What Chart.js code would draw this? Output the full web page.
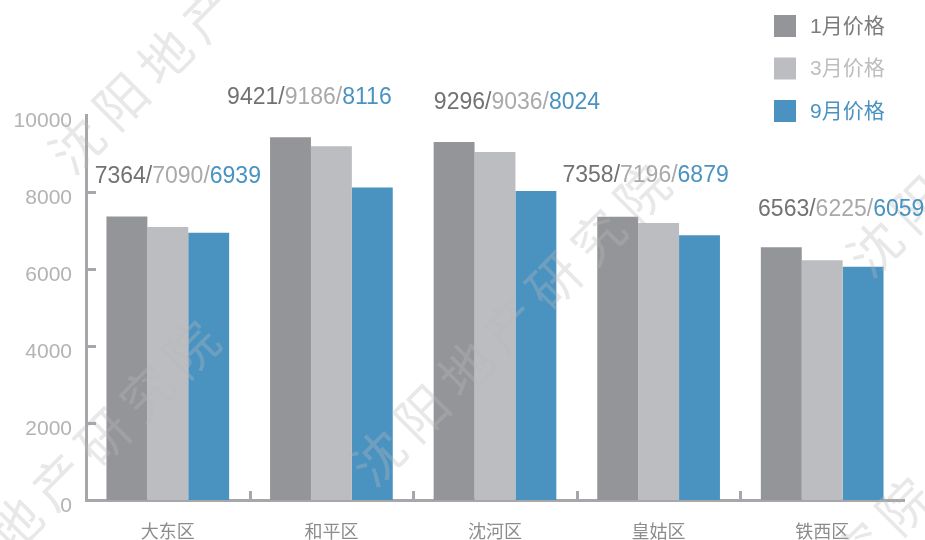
<!DOCTYPE html>
<html><head><meta charset="utf-8">
<script src="https://cdn.jsdelivr.net/npm/chart.js@4"></script>
<style>html,body{margin:0;padding:0;background:#fff;}canvas{display:block;}</style>
</head><body>
<canvas id="c" width="925" height="540"></canvas>
<script>
const categories = ['大东区', '和平区', '沈河区', '皇姑区', '铁西区'];
const seriesNames = ['1月价格', '3月价格', '9月价格'];
const janPrices = [7364, 9421, 9296, 7358, 6563];
const marPrices = [7090, 9186, 9036, 7196, 6225];
const sepPrices = [6939, 8116, 8024, 6879, 6059];
const yTicks = [0, 2000, 4000, 6000, 8000, 10000];
const watermarkText = '沈阳地产研究院';

const barColors = ['#949599', '#bcbdc0', '#4a93c1'];
const textColors = ['#727274', '#a9a9ab', '#4a93c1'];
const legendTextColors = ['#7c7c7e', '#bdbec0', '#4a93c1'];
const axisColor = '#a6a6ab';
const NUM_FONT = "'Liberation Sans', 'Noto Sans CJK SC', sans-serif";
const CJK_FONT = "'Noto Sans CJK SC', 'Liberation Sans', sans-serif";

const seriesValues = [janPrices, marPrices, sepPrices];

const watermarkPlugin = {
  id: 'watermark',
  afterDatasetsDraw(chart) {
    const ctx = chart.ctx;
    const starts = [[77, 145], [-73, 613], [378, 457], [875, 248], [640, 770]];
    const step = 44;
    ctx.save();
    ctx.font = "52px " + CJK_FONT;
    ctx.fillStyle = 'rgba(185,185,185,0.33)';
    ctx.textAlign = 'center';
    ctx.textBaseline = 'middle';
    starts.forEach(([sx, sy]) => {
      [...watermarkText].forEach((ch, k) => {
        ctx.save();
        ctx.translate(sx + step * k, sy - step * k);
        ctx.rotate(-Math.PI / 4);
        ctx.fillText(ch, 0, 0);
        ctx.restore();
      });
    });
    ctx.restore();
  }
};

const decorPlugin = {
  id: 'decor',
  afterDraw(chart) {
    const ctx = chart.ctx;
    const xs = chart.scales.x, ys = chart.scales.y;
    const area = chart.chartArea;
    ctx.save();
    ctx.strokeStyle = axisColor;
    ctx.lineWidth = 3;
    yTicks.forEach(v => {
      if (v === 0 || v === 10000) return;
      const y = Math.round(ys.getPixelForValue(v)) + 0.5;
      ctx.beginPath(); ctx.moveTo(area.left, y); ctx.lineTo(area.left + 10, y); ctx.stroke();
    });
    for (let i = 1; i < categories.length; i++) {
      const x = Math.round((xs.getPixelForValue(i - 1) + xs.getPixelForValue(i)) / 2) + 0.5;
      ctx.beginPath(); ctx.moveTo(x, area.bottom); ctx.lineTo(x, area.bottom - 9); ctx.stroke();
    }
    const labelDx = [10, -22, 22, -13, 19];
    const labelDy = [41, 41, 41, 43, 39];
    ctx.font = "23px " + NUM_FONT;
    ctx.textBaseline = 'alphabetic';
    ctx.textAlign = 'left';
    categories.forEach((c, i) => {
      const vals = seriesValues.map(s => s[i]);
      const parts = vals.map((v, k) => String(v) + (k < vals.length - 1 ? '/' : ''));
      const widths = parts.map(p => ctx.measureText(p).width);
      const total = widths.reduce((a, b) => a + b, 0);
      let x = xs.getPixelForValue(i) + labelDx[i] - total / 2;
      const y = ys.getPixelForValue(Math.max(...vals)) - labelDy[i] + 8;
      parts.forEach((p, k) => {
        ctx.fillStyle = textColors[k];
        ctx.fillText(p, x, y);
        x += widths[k];
      });
    });
    ctx.font = "21px " + NUM_FONT;
    ctx.textBaseline = 'middle';
    seriesNames.forEach((name, k) => {
      const top = 15 + 42.5 * k;
      ctx.fillStyle = barColors[k];
      ctx.fillRect(774, top, 22, 22);
      ctx.fillStyle = legendTextColors[k];
      ctx.fillText(name, 810, top + 12);
    });
    ctx.restore();
  }
};

new Chart(document.getElementById('c'), {
  type: 'bar',
  data: {
    labels: categories,
    datasets: seriesNames.map((name, k) => ({
      label: name,
      data: seriesValues[k],
      backgroundColor: barColors[k],
      borderWidth: 0,
      barPercentage: 1.0,
      categoryPercentage: 0.75
    }))
  },
  options: {
    responsive: false,
    animation: false,
    layout: { padding: { top: 115, right: 21, left: 0, bottom: 0 } },
    plugins: { legend: { display: false }, tooltip: { enabled: false } },
    scales: {
      y: {
        min: 0, max: 10000,
        afterBuildTicks: s => { s.ticks = yTicks.map(v => ({ value: v })); },
        afterFit: s => { s.width = 86; },
        grid: { display: false, drawTicks: false },
        border: { display: true, color: axisColor, width: 3 },
        ticks: {
          color: '#b3b3b3',
          font: { family: NUM_FONT, size: 21 },
          padding: 14,
          labelOffset: 6,
          callback: v => String(v)
        }
      },
      x: {
        afterFit: s => { s.height = 40; },
        grid: { display: false, drawTicks: false, offset: true },
        border: { display: true, color: axisColor, width: 3 },
        ticks: {
          color: '#8c8c8c',
          font: { family: CJK_FONT, size: 18 },
          padding: 20
        }
      }
    }
  },
  plugins: [watermarkPlugin, decorPlugin]
});
</script>
</body></html>
